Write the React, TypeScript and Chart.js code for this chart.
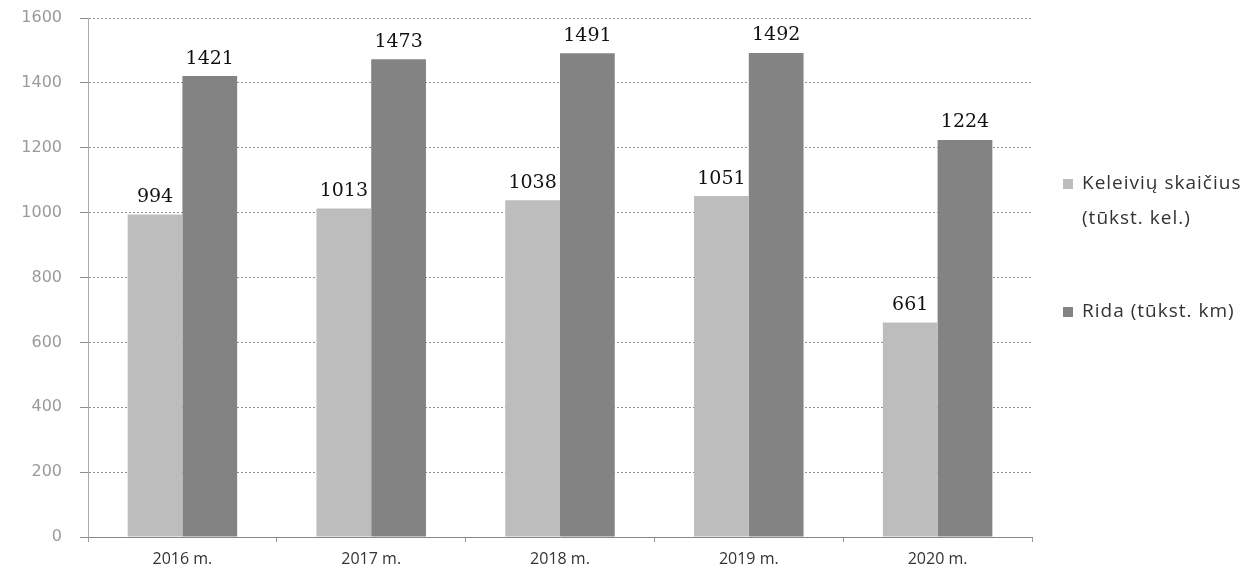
import React, { useEffect, useRef } from 'react';
import { Chart, registerables, Plugin } from 'chart.js';

Chart.register(...registerables);

const years = ['2016 m.', '2017 m.', '2018 m.', '2019 m.', '2020 m.'];
const passengers = [994, 1013, 1038, 1051, 661];
const mileage = [1421, 1473, 1491, 1492, 1224];
const passengersLabel = ['Keleivių skaičius', '(tūkst. kel.)'];
const mileageLabel = ['Rida (tūkst. km)'];
const yTicks = [0, 200, 400, 600, 800, 1000, 1200, 1400, 1600];

const lightGray = '#bdbdbd';
const darkGray = '#838383';

// numbers above every bar
const valueLabels: Plugin<'bar'> = {
  id: 'valueLabels',
  afterDatasetsDraw(chart) {
    const ctx = chart.ctx;
    ctx.save();
    ctx.font = '19px "DejaVu Serif"';
    ctx.fillStyle = '#111';
    ctx.textAlign = 'center';
    ctx.textBaseline = 'bottom';
    chart.data.datasets.forEach((ds, i) => {
      const meta = chart.getDatasetMeta(i);
      meta.data.forEach((bar, j) => {
        ctx.fillText(String(ds.data[j]), bar.x, bar.y - 8);
      });
    });
    ctx.restore();
  },
};

// legend on the right, with a wrapped first entry
const sideLegend: Plugin<'bar'> = {
  id: 'sideLegend',
  afterDraw(chart) {
    const ctx = chart.ctx as CanvasRenderingContext2D & { letterSpacing: string };
    const entries = [
      { color: lightGray, lines: passengersLabel, y: 184 },
      { color: darkGray, lines: mileageLabel, y: 312 },
    ];
    ctx.save();
    ctx.font = '19px "Open Sans"';
    ctx.letterSpacing = '1px';
    ctx.textBaseline = 'middle';
    ctx.textAlign = 'left';
    entries.forEach((e) => {
      ctx.fillStyle = e.color;
      ctx.fillRect(1063, e.y - 5, 10, 10);
      ctx.fillStyle = '#333';
      e.lines.forEach((line, k) => {
        ctx.fillText(line, 1082, e.y + k * 35);
      });
    });
    ctx.restore();
  },
};

const BarChart: React.FC = () => {
  const canvasRef = useRef<HTMLCanvasElement>(null);

  useEffect(() => {
    if (!canvasRef.current) return;
    const chart = new Chart(canvasRef.current, {
      type: 'bar',
      data: {
        labels: years,
        datasets: [
          {
            label: passengersLabel.join(' '),
            data: passengers,
            backgroundColor: lightGray,
            categoryPercentage: 0.58,
            barPercentage: 1,
          },
          {
            label: mileageLabel[0],
            data: mileage,
            backgroundColor: darkGray,
            categoryPercentage: 0.58,
            barPercentage: 1,
          },
        ],
      },
      options: {
        animation: false,
        responsive: true,
        maintainAspectRatio: false,
        layout: {
          padding: { top: 18, right: 218, bottom: 0, left: 8 },
        },
        plugins: {
          legend: { display: false },
          tooltip: { enabled: false },
        },
        scales: {
          x: {
            grid: {
              display: true,
              drawOnChartArea: false,
              drawTicks: true,
              tickLength: 5,
              color: '#999',
              offset: true,
            },
            border: { display: true, color: '#888', dash: [2, 2] },
            ticks: {
              color: '#333',
              font: { family: 'Open Sans', size: 16 },
              padding: 8,
            },
            afterFit: (scale) => {
              scale.height = 43;
            },
          },
          y: {
            min: 0,
            max: 1600,
            afterBuildTicks: (scale) => {
              scale.ticks = yTicks.map((v) => ({ value: v }));
            },
            grid: {
              color: '#8f8f8f',
              tickLength: 8,
              lineWidth: 1,
            },
            border: { display: true, color: '#aaa', dash: [2, 2] },
            ticks: {
              color: '#9a9a9a',
              font: { family: 'DejaVu Sans', size: 16 },
              padding: 18,
              callback: (v) => String(v),
            },
            afterFit: (scale) => {
              scale.width = 80;
              scale.paddingTop = 0;
              scale.paddingBottom = 0;
            },
          },
        },
      },
      plugins: [valueLabels, sideLegend],
    });
    return () => chart.destroy();
  }, []);

  return <canvas ref={canvasRef} />;
};

export default function App() {
  return (
    <div
      style={{
        position: 'fixed',
        left: 0,
        top: 0,
        width: 1250,
        height: 580,
        background: '#fff',
      }}
    >
      <BarChart />
    </div>
  );
}
